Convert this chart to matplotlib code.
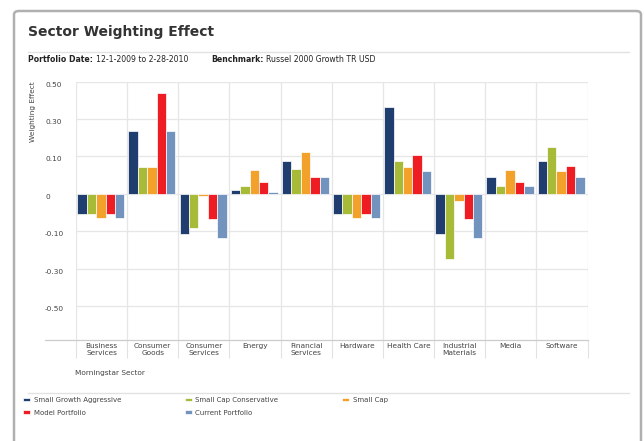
import numpy as np
import matplotlib
matplotlib.use("Agg")
import matplotlib.pyplot as plt
from matplotlib.patches import FancyBboxPatch
from matplotlib.lines import Line2D

# Data
sectors = ["Business\nServices", "Consumer\nGoods", "Consumer\nServices", "Energy",
           "Financial\nServices", "Hardware", "Health Care", "Industrial\nMaterials",
           "Media", "Software"]
series_names = ["Small Growth Aggressive", "Small Cap Conservative", "Small Cap",
                "Model Portfolio", "Current Portfolio"]
small_growth_aggr = [-0.053, 0.238, -0.116, 0.009, 0.088, -0.053, 0.364, -0.116, 0.046, 0.088]
small_cap_cons = [-0.053, 0.071, -0.091, 0.020, 0.067, -0.053, 0.088, -0.248, 0.020, 0.148]
small_cap = [-0.064, 0.071, -0.005, 0.065, 0.122, -0.064, 0.071, -0.020, 0.065, 0.060]
model_portfolio = [-0.053, 0.438, -0.068, 0.032, 0.046, -0.053, 0.110, -0.068, 0.032, 0.074]
current_portfolio = [-0.064, 0.238, -0.134, 0.005, 0.046, -0.064, 0.060, -0.134, 0.021, 0.046]
ytick_values = [-0.5, -0.3, -0.1, 0, 0.1, 0.3, 0.5]
ytick_labels = ["-0.50", "-0.30", "-0.10", "0", "0.10", "0.30", "0.50"]

colors = ["#1f3d6e", "#a8bb38", "#f2a22a", "#ee1d24", "#7193bd"]
series = [small_growth_aggr, small_cap_cons, small_cap, model_portfolio, current_portfolio]

# The chart's value axis is evenly spaced at the tick labels, so use a
# piecewise-linear scale through those labels
scale_vals = [-1.1, -0.9, -0.7, -0.5, -0.3, -0.1, 0, 0.1, 0.3, 0.5, 0.7, 0.9, 1.1]
scale_pos = list(range(-6, 7))

def fwd(v):
	return np.interp(v, scale_vals, scale_pos)

def inv(p):
	return np.interp(p, scale_pos, scale_vals)

W, H = 644, 441
fig = plt.figure(figsize=(W / 100, H / 100), dpi=100)
plt.rcParams['font.family'] = ['DejaVu Sans']
renderer = fig.canvas.get_renderer()

# outer panel border
frame = FancyBboxPatch((14 / W, -0.05), 627 / W, 1.05 - 11 / H,
	boxstyle="round,pad=0,rounding_size=0.008", transform=fig.transFigure,
	facecolor="none", edgecolor="#b0b0b0", linewidth=1.8, zorder=0)
fig.patches.append(frame)

fig.text(28 / W, 1 - 32 / H, "Sector Weighting Effect", fontsize=10,
	fontweight="bold", color="#333333", va="center", ha="left")
fig.add_artist(Line2D([28 / W, 629 / W], [1 - 52 / H] * 2, color="#e2e2e2", lw=1))

def label_pair(x0, bold, normal, y=1 - 59 / H, size=5.6):
	t = fig.text(x0 / W, y, bold, fontsize=size, fontweight="bold",
		color="#222222", va="center")
	x1 = t.get_window_extent(renderer).x1
	fig.text((x1 + 3) / W, y, normal, fontsize=size, color="#222222", va="center")

label_pair(28, "Portfolio Date:", "12-1-2009 to 2-28-2010")
label_pair(211, "Benchmark:", "Russel 2000 Growth TR USD")

ax = fig.add_axes([76 / W, 1 - 340 / H, 511.5 / W, (340 - 81.7) / H])
ax.set_yscale("function", functions=(fwd, inv))

x = np.arange(len(sectors))
w = 0.184
handles = []
for i, (vals, c) in enumerate(zip(series, colors)):
	b = ax.bar(x + (i - 2) * w - 0.015, vals, width=w, color=c,
		edgecolor="white", linewidth=0.5, zorder=3, label=series_names[i])
	handles.append(b)

ax.set_xlim(-0.5, len(sectors) - 0.5)
ax.set_ylim(-0.682, 0.5)
ax.set_yticks(ytick_values)
ax.set_yticklabels(ytick_labels)
ax.set_xticks(x)
ax.set_xticklabels(sectors, fontsize=5.3, color="#444444", linespacing=1.15)
ax.set_xticks(np.arange(-0.5, len(sectors), 1), minor=True)
ax.tick_params(axis="x", which="major", length=0, pad=2.5)
ax.tick_params(axis="x", which="minor", length=13, width=0.8, color="#e2e2e2",
	direction="out")
ax.tick_params(axis="y", length=0, pad=22.3, labelsize=5.3, labelcolor="#444444")
for t in ax.get_yticklabels():
	t.set_horizontalalignment("left")
	t.set_verticalalignment("top")
ax.grid(True, axis="y", color="#e6e6e6", lw=0.9, zorder=0)
ax.grid(True, axis="x", which="minor", color="#e6e6e6", lw=0.9, zorder=0)
for s in ax.spines.values():
	s.set_visible(False)
# bottom line reaches out under the tick labels
ax.add_line(Line2D([-31 / 511.5, 1], [0, 0], transform=ax.transAxes,
	color="#cccccc", lw=0.9, clip_on=False))

ax.set_ylabel("Weighting Effect", fontsize=5.3, color="#444444", loc="top")
ax.yaxis.set_label_coords(-40 / 511.5, 1.0)

fig.text(75 / W, 1 - 373 / H, "Morningstar Sector", fontsize=5.3,
	color="#444444", va="center")
fig.add_artist(Line2D([28 / W, 629 / W], [1 - 393 / H] * 2, color="#e2e2e2", lw=1))

# legend: column-major order so rows read like the reference
order = [0, 3, 1, 4, 2]
fig.legend([handles[k] for k in order], [series_names[k] for k in order],
	loc="upper left", bbox_to_anchor=(23 / W, 1 - 397 / H), ncol=3,
	frameon=False, fontsize=5.0, handlelength=1.05, handleheight=0.45,
	handletextpad=0.5, columnspacing=9.15, labelspacing=0.95,
	borderpad=0, borderaxespad=0, labelcolor="#444444")

fig.savefig("out.png", dpi=100)
